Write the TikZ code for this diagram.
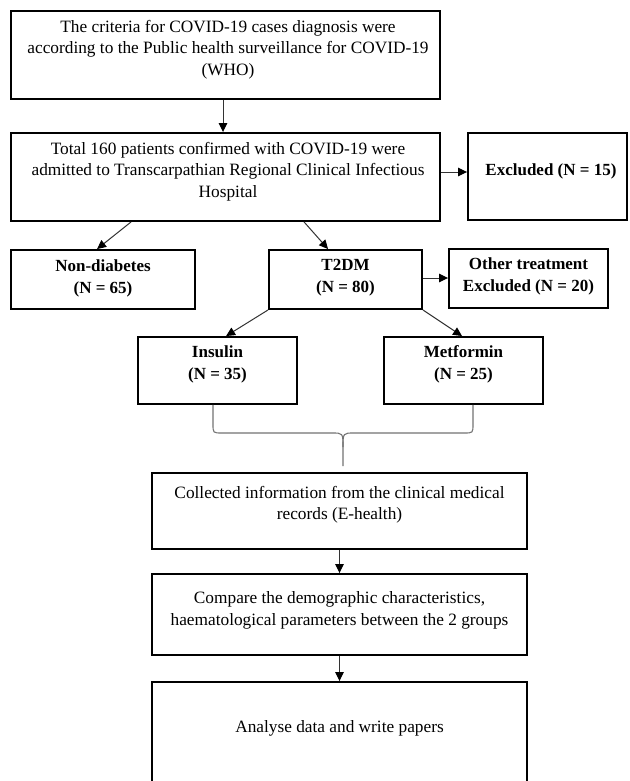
\documentclass[tikz,border=0pt]{standalone}
\usepackage{fontspec}
\setmainfont{Liberation Serif}
\usetikzlibrary{arrows.meta}
\tikzset{
  boxnode/.style={draw=black, line width=1.9pt, inner sep=0pt},
  txt/.style={align=center, inner sep=0pt, font=\fontsize{17.3}{21.5}\selectfont},
  btxt/.style={align=center, inner sep=0pt, font=\fontsize{17}{22}\selectfont\bfseries},
  arr/.style={draw=black!80, line width=1pt, -{Triangle[length=9pt,width=8.5pt,color=black]}},
  bracestyle/.style={draw=black!55, line width=1.1pt},
}
\begin{document}
\begin{tikzpicture}[x=1pt,y=-1pt]
\clip (0,0) rectangle (629,781);
\fill[white] (0,0) rectangle (629,781);
% boxes
\node[boxnode, minimum width=429pt, minimum height=88pt] (b1) at (225.5,55) {};
\node[boxnode, minimum width=429pt, minimum height=88pt] (b2) at (225.5,177) {};
\node[boxnode, minimum width=159pt, minimum height=87pt] (ex) at (547.5,176.5) {};
\node[boxnode, minimum width=184pt, minimum height=59pt] (nd) at (103,279.5) {};
\node[boxnode, minimum width=153pt, minimum height=59pt] (t2) at (345.5,279.5) {};
\node[boxnode, minimum width=159pt, minimum height=59pt] (ot) at (528.5,278.5) {};
\node[boxnode, minimum width=159pt, minimum height=67pt] (ins) at (217.5,370.5) {};
\node[boxnode, minimum width=159pt, minimum height=67pt] (met) at (463.5,370.5) {};
\node[boxnode, minimum width=375pt, minimum height=76pt] (col) at (339.5,511) {};
\node[boxnode, minimum width=375pt, minimum height=81pt] (cmp) at (339.5,614.5) {};
\node[boxnode, minimum width=375pt, minimum height=118pt] (an) at (339.5,741) {};
% texts
\node[txt] (tb1) at (228,49.5) {The criteria for COVID-19 cases diagnosis were\\according to the Public health surveillance for COVID-19\\(WHO)};
\node[txt] (tb2) at (228,171.5) {Total 160 patients confirmed with COVID-19 were\\admitted to Transcarpathian Regional Clinical Infectious\\Hospital};
\node[btxt] (tex) at (551,171) {Excluded (N = 15)};
\node[btxt] (tnd) at (103,278) {Non-diabetes\\(N = 65)};
\node[btxt] (tt2) at (345.5,278) {T2DM\\(N = 80)};
\node[btxt] (tot) at (528.5,276.5) {Other treatment\\Excluded (N = 20)};
\node[btxt] (tins) at (217.5,364.5) {Insulin\\(N = 35)};
\node[btxt] (tmet) at (463.5,364) {Metformin\\(N = 25)};
\node[txt] (tcol) at (339.5,504.5) {Collected information from the clinical medical\\records (E-health)};
\node[txt] (tcmp) at (339.5,610.5) {Compare the demographic characteristics,\\haematological parameters between the 2 groups};
\node[txt] (tan) at (339.5,728) {Analyse data and write papers};
% connectors
\draw[arr] ([xshift=-2.5pt]b1.south) -- ([xshift=-2.5pt]b2.north);
\draw[arr] ([yshift=5pt]b2.east) -- ([yshift=4.5pt]ex.west);
\draw[arr] ([xshift=121pt]b2.south west) -- ([xshift=87pt]nd.north west);
\draw[arr] ([xshift=294pt]b2.south west) -- ([xshift=60pt]t2.north west);
\draw[arr] ([yshift=1.5pt]t2.east) -- ([yshift=0.5pt]ot.west);
\draw[arr] (t2.south west) -- ([xshift=89pt]ins.north west);
\draw[arr] (t2.south east) -- ([xshift=79pt]met.north west);
\draw[arr] (col.south) -- (cmp.north);
\draw[arr] (cmp.south) -- (an.north);
% brace
\coordinate (bl) at ([xshift=-4.5pt]ins.south);
\coordinate (br) at ([xshift=9.5pt]met.south);
\coordinate (tip) at (343,466);
\draw[bracestyle] (bl) -- (213,424) .. controls (213,433) .. (222,433) -- (332,433) .. controls (343,433) .. (343,447) -- (tip);
\draw[bracestyle] (br) -- (473,424) .. controls (473,433) .. (464,433) -- (354,433) .. controls (343,433) .. (343,447);
\end{tikzpicture}
\end{document}
